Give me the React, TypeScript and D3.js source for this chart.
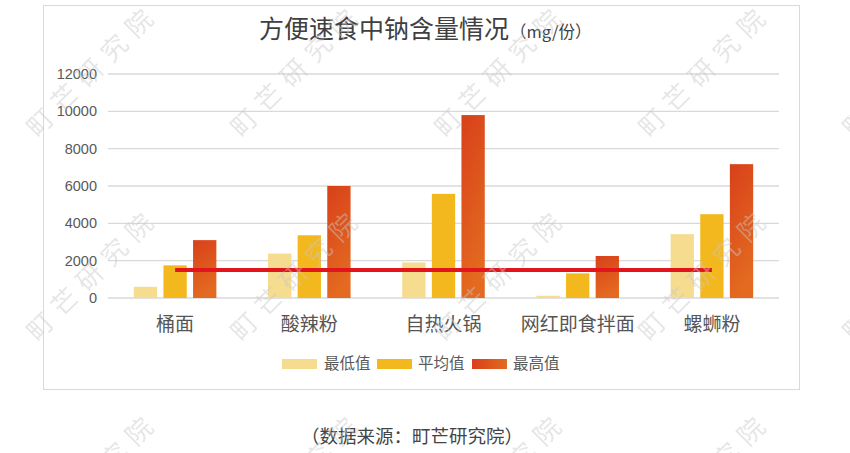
import React from "react";
import * as d3 from "d3";

const categories = ["桶面", "酸辣粉", "自热火锅", "网红即食拌面", "螺蛳粉"];
const seriesNames = ["最低值", "平均值", "最高值"];
const lowValues = [600, 2380, 1900, 120, 3420];
const avgValues = [1750, 3360, 5580, 1320, 4490];
const highValues = [3100, 6000, 9800, 2250, 7170];
const refLineValues = [1500, 1500, 1500, 1500, 1500];
const yTicks = [0, 2000, 4000, 6000, 8000, 10000, 12000];
const titleMain = "方便速食中钠含量情况";
const titleUnit = "（mg/份）";
const sourceText = "（数据来源：町芒研究院）";
const watermarkText = "町芒研究院";

const W = 850;
const H = 453;
const CJK = "'Noto Sans CJK SC', 'Noto Sans', sans-serif";
const LATIN = "'Liberation Sans', Arial, sans-serif";

export default function App() {
  const x0 = d3.scaleBand<string>().domain(categories).range([108, 779]).paddingInner(0.385).paddingOuter(0.1925);
  const x1 = d3.scaleBand<string>().domain(seriesNames).range([0, x0.bandwidth()]).paddingInner(0.213).paddingOuter(0);
  const y = d3.scaleLinear().domain([0, 12000]).range([298, 74]);
  const seriesValues = [lowValues, avgValues, highValues];
  const fills = ["#f6dc8f", "#f3b81d", "url(#orangeGrad)"];

  const line = d3
    .line<number>()
    .x((_, i) => (x0(categories[i]) as number) + x0.bandwidth() / 2)
    .y((d) => y(d));

  const legendItems = [
    { name: seriesNames[0], sx: 282, tx: 324 },
    { name: seriesNames[1], sx: 377, tx: 418 },
    { name: seriesNames[2], sx: 472, tx: 513 },
  ];

  const wm: { cx: number; cy: number }[] = [];
  for (let i = 0; i <= 4; i++) {
    for (let j = 0; j <= 2; j++) {
      wm.push({ cx: 93 + 204 * i, cy: 70 + 204 * j });
    }
  }

  return (
    <svg width={W} height={H} style={{ position: "absolute", left: 0, top: 0, background: "#fff" }}>
      <defs>
        <linearGradient id="orangeGrad" x1="0" y1="0" x2="0.3" y2="1">
          <stop offset="0" stopColor="#d8401a" />
          <stop offset="1" stopColor="#e36a20" />
        </linearGradient>
        <linearGradient id="orangeGradH" x1="0" y1="0" x2="1" y2="0">
          <stop offset="0" stopColor="#d8401a" />
          <stop offset="1" stopColor="#e36a20" />
        </linearGradient>
      </defs>
      <rect x={0} y={0} width={W} height={H} fill="#fff" />
      <rect x={43.5} y={5.5} width={756} height={384} fill="#fff" stroke="#d9d9d9" strokeWidth={1} />

      {/* title */}
      <text x={259} y={38} fontFamily={CJK} fontSize={25} fill="#404040">
        {titleMain}
        <tspan fontSize={16.5} dx={1}>{titleUnit}</tspan>
      </text>

      {/* grid and y labels */}
      {yTicks.map((t) => (
        <g key={t}>
          <line x1={108} x2={779} y1={y(t)} y2={y(t)} stroke="#d9d9d9" strokeWidth={1.3} />
          <text x={97} y={y(t)} dy="0.35em" textAnchor="end" fontFamily={LATIN} fontSize={14.5} fill="#595959">
            {t}
          </text>
        </g>
      ))}

      {/* bars */}
      {categories.map((c, ci) => (
        <g key={c} transform={`translate(${x0(c)},0)`}>
          {seriesNames.map((s, si) => {
            const v = seriesValues[si][ci];
            return (
              <rect
                key={s}
                x={x1(s)}
                y={y(v)}
                width={x1.bandwidth()}
                height={y(0) - y(v)}
                fill={fills[si]}
              />
            );
          })}
        </g>
      ))}

      {/* reference line */}
      <path d={line(refLineValues) || ""} fill="none" stroke="#e2141c" strokeWidth={4} />

      {/* category labels */}
      {categories.map((c) => (
        <text
          key={c}
          x={(x0(c) as number) + x0.bandwidth() / 2}
          y={324}
          dy="0.35em"
          textAnchor="middle"
          fontFamily={CJK}
          fontSize={19}
          fill="#555"
        >
          {c}
        </text>
      ))}

      {/* legend */}
      {legendItems.map((it, i) => (
        <g key={it.name}>
          <rect x={it.sx} y={359} width={35} height={10} fill={i === 2 ? "url(#orangeGradH)" : fills[i]} />
          <text x={it.tx} y={364} dy="0.35em" fontFamily={CJK} fontSize={15.5} fill="#595959">
            {it.name}
          </text>
        </g>
      ))}

      {/* source */}
      <text x={412} y={437} dy="0.35em" textAnchor="middle" fontFamily={CJK} fontSize={18.5} fill="#444">
        {sourceText}
      </text>

      {/* watermarks */}
      <g fill="#c8c8c8" opacity={0.45} fontFamily={CJK} fontSize={26}>
        {wm.map((p, k) => (
          <text
            key={k}
            transform={`translate(${p.cx},${p.cy}) rotate(-45)`}
            textAnchor="middle"
            dy="0.35em"
            letterSpacing={9}
          >
            {watermarkText}
          </text>
        ))}
      </g>
    </svg>
  );
}
